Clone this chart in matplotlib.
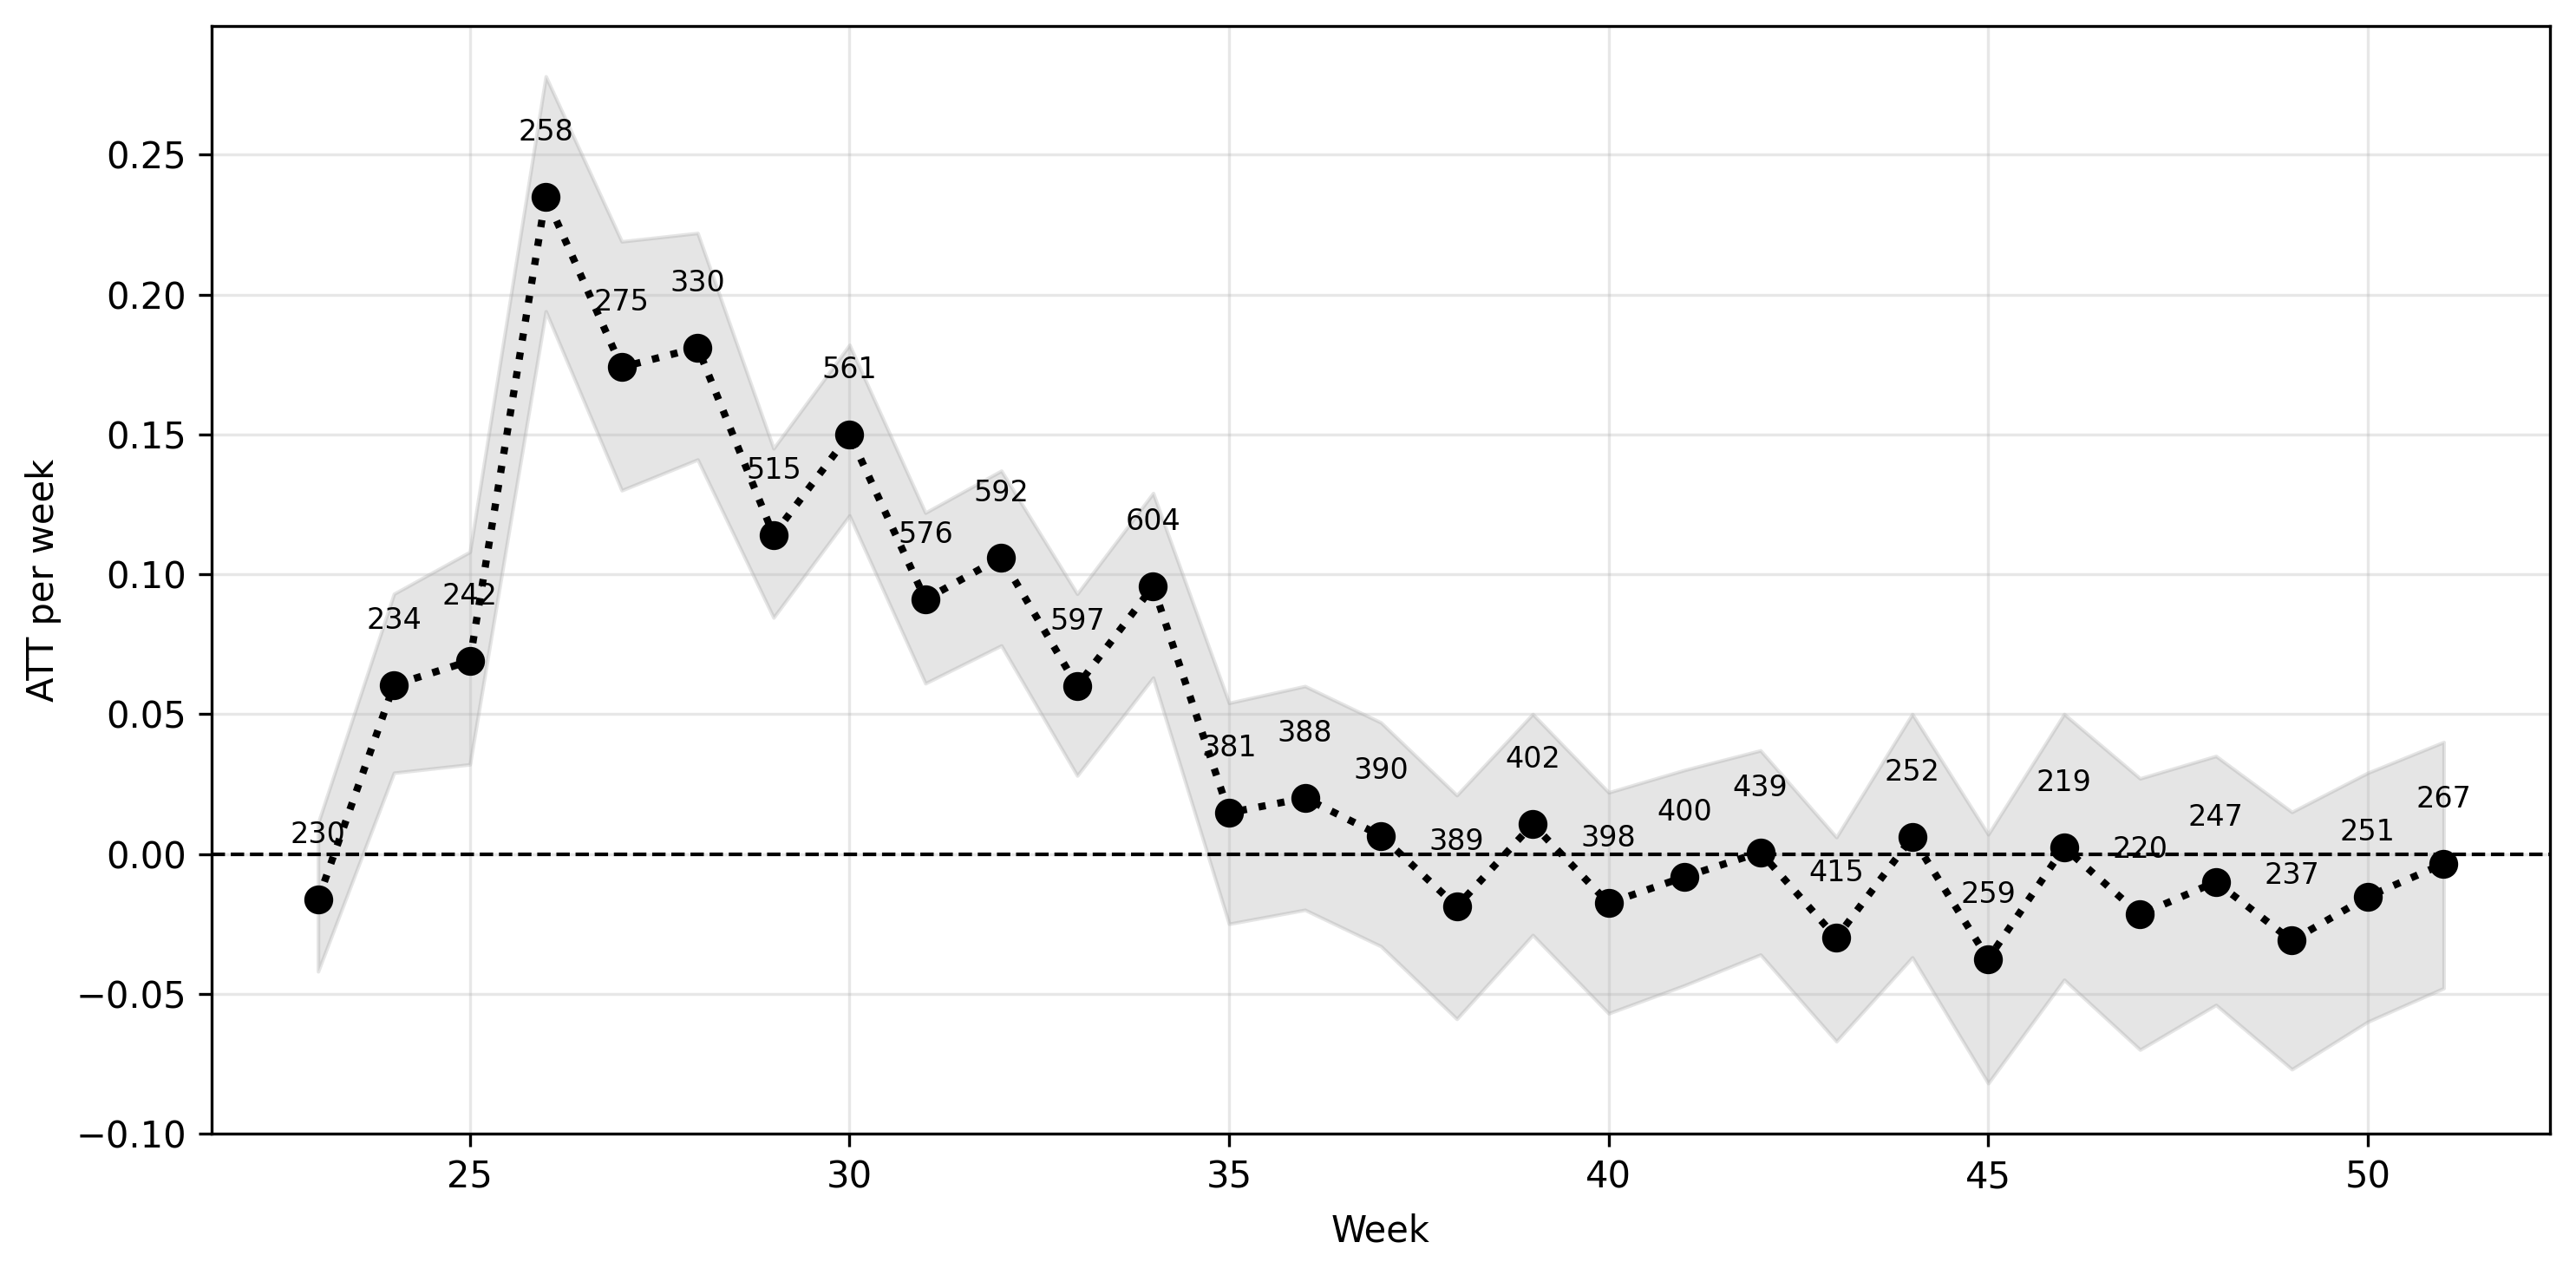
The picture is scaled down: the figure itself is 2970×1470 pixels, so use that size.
import matplotlib
matplotlib.use("Agg")
import matplotlib.pyplot as plt

weeks = list(range(23, 52))
att = [-0.0164, 0.0604, 0.069, 0.235, 0.174, 0.181, 0.114, 0.150, 0.091, 0.106,
       0.060, 0.0957, 0.0147, 0.020, 0.0065, -0.0188, 0.0106, -0.0176, -0.0082, 0.0006,
       -0.030, 0.006, -0.0376, 0.0023, -0.0217, -0.010, -0.031, -0.0153, -0.0035]
upper = [0.011, 0.093, 0.108, 0.278, 0.219, 0.222, 0.145, 0.182, 0.122, 0.137,
         0.093, 0.129, 0.054, 0.060, 0.047, 0.021, 0.050, 0.022, 0.030, 0.037,
         0.006, 0.050, 0.007, 0.050, 0.027, 0.035, 0.015, 0.029, 0.040]
lower = [-0.042, 0.029, 0.032, 0.194, 0.130, 0.141, 0.0845, 0.121, 0.061, 0.0745,
         0.028, 0.063, -0.025, -0.020, -0.033, -0.059, -0.029, -0.057, -0.047, -0.036,
         -0.067, -0.037, -0.082, -0.045, -0.070, -0.054, -0.077, -0.060, -0.048]
counts = [230, 234, 242, 258, 275, 330, 515, 561, 576, 592, 597, 604, 381, 388, 390,
          389, 402, 398, 400, 439, 415, 252, 259, 219, 220, 247, 237, 251, 267]

fig = plt.figure(figsize=(9.9, 4.9), dpi=300)
ax = fig.add_axes([0.0822, 0.1109, 0.9077, 0.8687])

ax.fill_between(weeks, lower, upper, color="gray", alpha=0.2)
ax.plot(weeks, att, linestyle=":", color="black", linewidth=2,
        marker="o", markersize=7)
ax.axhline(0, color="black", linestyle="--", linewidth=1)

for w, a, n in zip(weeks, att, counts):
    ax.text(w, a + 0.018, str(n), ha="center", va="bottom", fontsize=8)

ax.set_xlabel("Week", labelpad=5)
ax.set_ylabel("ATT per week")
ax.grid(True, alpha=0.3)

fig.savefig("out.png", dpi=300)
